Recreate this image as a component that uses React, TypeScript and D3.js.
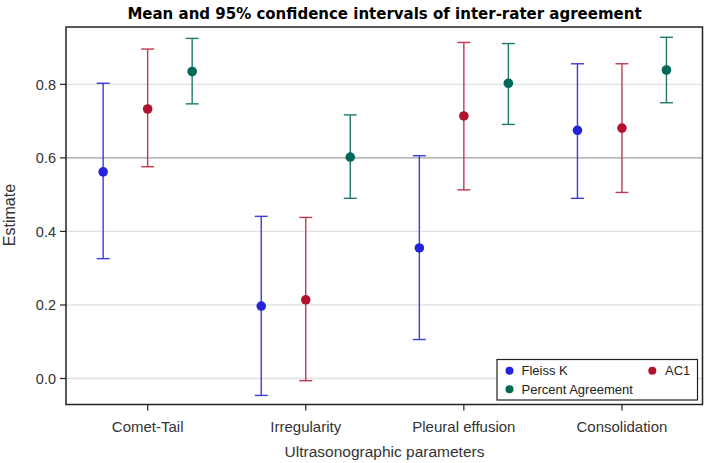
import React from "react";
import * as d3 from "d3";

const categories = ["Comet-Tail", "Irregularity", "Pleural effusion", "Consolidation"];
const seriesNames = ["Fleiss K", "AC1", "Percent Agreement"];
const fleissMean = [0.562, 0.197, 0.355, 0.675];
const fleissLower = [0.326, -0.046, 0.106, 0.490];
const fleissUpper = [0.803, 0.441, 0.606, 0.856];
const ac1Mean = [0.733, 0.214, 0.714, 0.681];
const ac1Lower = [0.576, -0.006, 0.513, 0.506];
const ac1Upper = [0.896, 0.438, 0.914, 0.856];
const paMean = [0.835, 0.602, 0.803, 0.839];
const paLower = [0.747, 0.490, 0.691, 0.750];
const paUpper = [0.925, 0.717, 0.911, 0.928];
const yTicks = [0.0, 0.2, 0.4, 0.6, 0.8];

const colors = ["#2323dc", "#b0122e", "#00695a"];
const lineColors = ["#3b3be0", "#bf3a52", "#1f7a6a"];

export default function App() {
  const W = 709, H = 463;
  const left = 66, right = 702.5, top = 27, bottom = 404.5;
  const y = d3.scaleLinear().domain([-0.0707, 0.956]).range([bottom, top]);
  const x = d3.scaleBand().domain(categories).range([68.6, 701]);
  const off = d3.scalePoint().domain(seriesNames).range([-44.5, 44.5]);
  const series = [
    { name: seriesNames[0], mean: fleissMean, lo: fleissLower, hi: fleissUpper },
    { name: seriesNames[1], mean: ac1Mean, lo: ac1Lower, hi: ac1Upper },
    { name: seriesNames[2], mean: paMean, lo: paLower, hi: paUpper },
  ];
  const font = "Arial, 'Liberation Sans', sans-serif";
  const cap = 6.5;
  return (
    <svg width={W} height={H} style={{ position: "absolute", left: 0, top: 0, background: "#fff" }} fontFamily={font}>
      <rect x={0} y={0} width={W} height={H} fill="#fff" />
      <text x={384.5} y={18.5} textAnchor="middle" fontSize={15} fontWeight="bold" fill="#000"
        fontFamily="'DejaVu Sans', Verdana, sans-serif">
        Mean and 95% confidence intervals of inter-rater agreement
      </text>
      {yTicks.map((t) => (
        <line key={"g" + t} x1={left} x2={right} y1={y(t)} y2={y(t)}
          stroke={t === 0.6 ? "#a0a0a0" : "#e0e0e0"} strokeWidth={1.3} />
      ))}
      {series.map((s, si) => (
        <g key={s.name}>
          {categories.map((c, ci) => {
            const cx = (x(c) as number) + x.bandwidth() / 2 + (off(s.name) as number);
            return (
              <g key={c}>
                <line x1={cx} x2={cx} y1={y(s.lo[ci])} y2={y(s.hi[ci])} stroke={lineColors[si]} strokeWidth={1.4} />
                <line x1={cx - cap} x2={cx + cap} y1={y(s.lo[ci])} y2={y(s.lo[ci])} stroke={lineColors[si]} strokeWidth={1.4} />
                <line x1={cx - cap} x2={cx + cap} y1={y(s.hi[ci])} y2={y(s.hi[ci])} stroke={lineColors[si]} strokeWidth={1.4} />
                <circle cx={cx} cy={y(s.mean[ci])} r={4.8} fill={colors[si]} />
              </g>
            );
          })}
        </g>
      ))}
      <rect x={left} y={top} width={right - left} height={bottom - top} fill="none" stroke="#222" strokeWidth={1.5} />
      {yTicks.map((t) => (
        <g key={"t" + t}>
          <line x1={left - 6} x2={left} y1={y(t)} y2={y(t)} stroke="#222" strokeWidth={1.2} />
          <text x={left - 10} y={y(t) + 5.2} textAnchor="end" fontSize={14.5} fill="#333">{t.toFixed(1)}</text>
        </g>
      ))}
      {categories.map((c) => {
        const cx = (x(c) as number) + x.bandwidth() / 2;
        return (
          <g key={"x" + c}>
            <line x1={cx} x2={cx} y1={bottom} y2={bottom + 6} stroke="#222" strokeWidth={1.2} />
            <text x={cx} y={432} textAnchor="middle" fontSize={15} fill="#333">{c}</text>
          </g>
        );
      })}
      <text x={384.5} y={457} textAnchor="middle" fontSize={15.5} fill="#333">Ultrasonographic parameters</text>
      <text transform={`translate(15,${215}) rotate(-90)`} textAnchor="middle" fontSize={16} fill="#333">Estimate</text>
      <g>
        <rect x={497} y={359.5} width={200.5} height={40.5} fill="#fff" stroke="#222" strokeWidth={1.2} />
        <circle cx={509.5} cy={370.7} r={4} fill={colors[0]} />
        <text x={521.5} y={375.3} fontSize={13} fill="#222">{seriesNames[0]}</text>
        <circle cx={652.3} cy={370.7} r={4} fill={colors[1]} />
        <text x={665} y={375.3} fontSize={13} fill="#222">{seriesNames[1]}</text>
        <circle cx={509.5} cy={389.3} r={4} fill={colors[2]} />
        <text x={521.5} y={393.9} fontSize={13} fill="#222">{seriesNames[2]}</text>
      </g>
    </svg>
  );
}
